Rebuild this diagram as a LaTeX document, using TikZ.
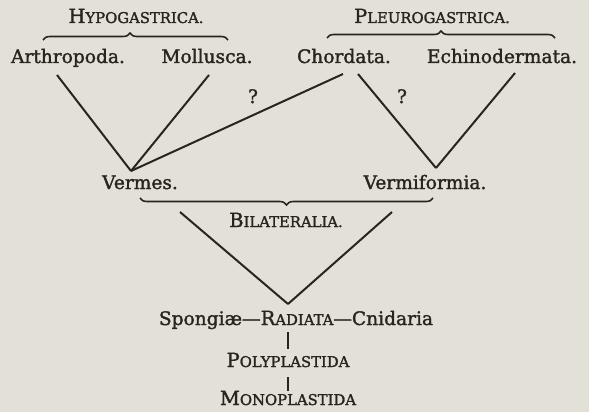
\documentclass[tikz,border=0pt]{standalone}
\usepackage{fontspec}
\setmainfont{DejaVu Serif}[FakeBold=1.6]
\usetikzlibrary{decorations.pathreplacing}
\definecolor{paper}{RGB}{227,225,215}
\definecolor{ink}{RGB}{40,37,33}
\newcommand{\bigname}{\fontsize{18.6}{21}\selectfont}
\newcommand{\smcap}[2]{{\fontsize{19.5}{22}\selectfont #1}{\fontsize{14.8}{17}\selectfont #2}}
\begin{document}
\begin{tikzpicture}[x=1pt,y=-1pt,
  every node/.style={text=ink, inner sep=0pt},
  taxon/.style={font=\bigname, anchor=base},
  group/.style={anchor=base},
  conn/.style={draw=ink, line width=2pt},
  ubrace/.style={draw=ink, line width=1.6pt, decorate, decoration={brace, amplitude=7pt, #1}},
  ubrace/.default={aspect=0.5}
]
\fill[paper] (0,0) rectangle (589,412);
\useasboundingbox (0,0) rectangle (589,412);

% headings
\node[group] (hypo) at (136,23) {\smcap{H}{YPOGASTRICA.}};
\node[group] (pleu) at (432,23) {\smcap{P}{LEUROGASTRICA.}};

% braces
\coordinate (hb1) at (43,40); \coordinate (hb2) at (228,40);
\coordinate (pb1) at (327,38); \coordinate (pb2) at (555,38);
\coordinate (bb1) at (433,198); \coordinate (bb2) at (140,198);
\draw[ubrace={aspect=0.47}] (hb1) -- (hb2);
\draw[ubrace] (pb1) -- (pb2);
\draw[ubrace] (bb1) -- (bb2);

% top taxa
\node[taxon] (arth) at (68,63) {Arthropoda.};
\node[taxon] (moll) at (207,63) {Mollusca.};
\node[taxon] (chor) at (344,63) {Chordata.};
\node[taxon] (echi) at (502,63) {Echinodermata.};

% middle taxa
\node[taxon] (verm) at (140,189) {Vermes.};
\node[taxon] (vfor) at (425,189) {Vermiformia.};
\node[group] (bila) at (286,227) {\smcap{B}{ILATERALIA.}};

% lower
\node[taxon] (radi) at (296,325) {Spongiæ—\smcap{R}{ADIATA}—Cnidaria};
\node[group] (poly) at (288,367) {\smcap{P}{OLYPLASTIDA}};
\node[group] (mono) at (288,405) {\smcap{M}{ONOPLASTIDA}};

% question marks
\node[taxon] (q1) at (253,103) {?};
\node[taxon] (q2) at (402,103) {?};

% connector end points
\coordinate (a1) at (57,75);
\coordinate (m1) at (209,75);
\coordinate (c1) at (343,74);
\coordinate (c2) at (358,74);
\coordinate (e1) at (515,73);
\coordinate (vj) at (131,171);
\coordinate (wj) at (436,168);
\coordinate (bl) at (180,212);
\coordinate (br) at (392,212);
\coordinate (rj) at (288,304);

\draw[conn] (a1) -- (vj);
\draw[conn] (m1) -- (vj);
\draw[conn] (c1) -- (vj);
\draw[conn] (c2) -- (wj);
\draw[conn] (e1) -- (wj);
\draw[conn] (bl) -- (rj);
\draw[conn] (br) -- (rj);

\coordinate (p1) at (288,332);
\coordinate (p2) at (288,349);
\coordinate (m2) at (288,377);
\coordinate (m3) at (288,391);
\draw[conn] (p1) -- (p2);
\draw[conn] (m2) -- (m3);
\end{tikzpicture}
\end{document}
